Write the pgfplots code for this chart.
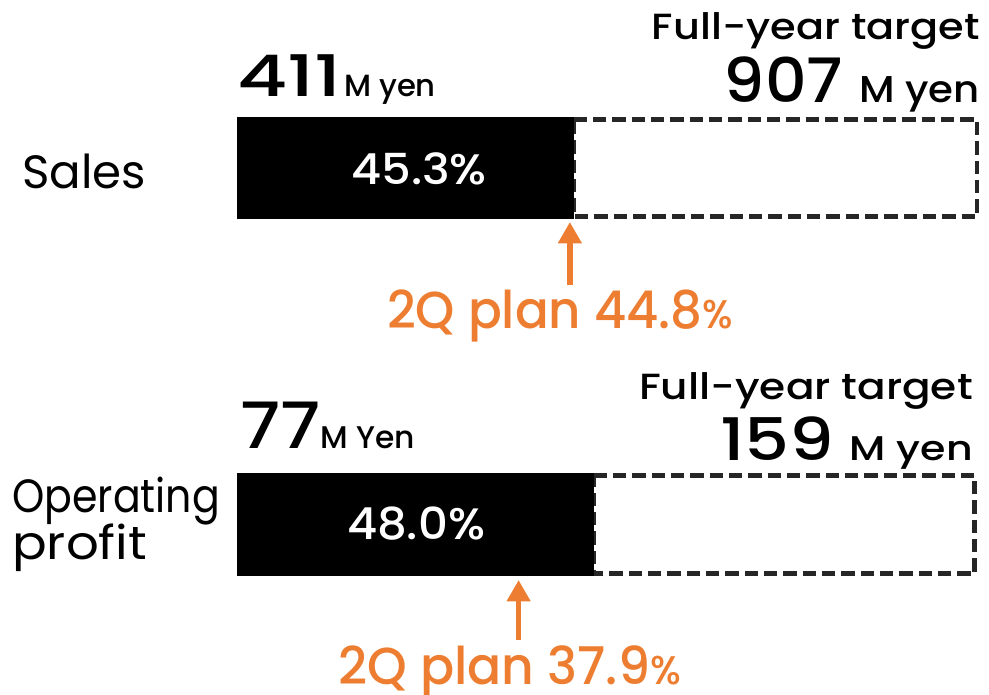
\documentclass[border=0pt]{standalone}
\usepackage{pgfplots}
\pgfplotsset{compat=1.18}
\usepackage{fontspec}
\usetikzlibrary{arrows.meta}
\setmainfont{Poppins}
\newfontfamily\popm{Poppins}[UprightFont=* Medium]
\definecolor{plan}{HTML}{ED7D31}
\definecolor{dash}{HTML}{262626}
\newcommand\sx[2]{\scalebox{#1}[1]{#2}}
\begin{document}
\begin{tikzpicture}
\begin{axis}[
  name=ax,
  scale only axis, width=741.75pt, height=520.5pt,
  xmin=-31.897, xmax=101.21, ymin=0, ymax=694, y dir=reverse,
  axis lines=none, clip=false,
]
% remainder up to full-year target (dashed box, % of target)
\addplot[draw=dash, fill=white, line width=3.6pt, dash pattern=on 10pt off 4.5pt] coordinates {(45.3,119.5) (99.6,119.5) (99.6,216.5) (45.3,216.5) (45.3,119.5)};
\addplot[draw=dash, fill=white, line width=3.6pt, dash pattern=on 10pt off 4.5pt] coordinates {(48.0,475.5) (99.3,475.5) (99.3,573.5) (48.0,573.5) (48.0,475.5)};
% achieved share of full-year target (%)
\addplot[xbar, bar width=102, fill=black, draw=none] coordinates {(45.3,168)};
\addplot[xbar, bar width=103, fill=black, draw=none] coordinates {(48.0,524.5)};
% 2Q plan arrows
\addplot[plan, line width=4.3pt, -{Triangle[length=16pt,width=17pt]}] coordinates {(44.8,285) (44.8,222)};
\addplot[plan, line width=4.3pt, -{Triangle[length=16pt,width=17pt]}] coordinates {(37.9,640) (37.9,580)};

% Sales block
\node[anchor=base east, inner sep=0, font=\popm\fontsize{27.3}{30}\selectfont] at (axis cs:100,39.5) {\sx{1.14}{Full-year target}};
\node[anchor=base east, inner sep=0] at (axis cs:100,102) {\popm\fontsize{46}{48}\selectfont \sx{1.06}{907} \fontsize{28}{30}\selectfont\sx{1.08}{M yen}};
\node[anchor=base west, inner sep=0] at (axis cs:0,96) {\popm\fontsize{43}{46}\selectfont \sx{1.35}{411}\hspace{2pt}\fontsize{23}{24}\selectfont M yen};
\node[anchor=base west, inner sep=0, font=\fontsize{35}{38}\selectfont] at (axis cs:-28.94,188) {Sales};
\node[anchor=base, inner sep=0, text=white, font=\popm\fontsize{32}{34}\selectfont] at (axis cs:24.5,184) {\sx{1.09}{45.3\%}};
\node[anchor=base, inner sep=0, text=plan] at (axis cs:43.5,328) {\popm\fontsize{39}{40}\selectfont \sx{0.96}{2Q plan 44.8\fontsize{30}{32}\selectfont\%}};

% Operating profit block
\node[anchor=base east, inner sep=0, font=\popm\fontsize{27.3}{30}\selectfont] at (axis cs:99.06,399) {\sx{1.16}{Full-year target}};
\node[anchor=base east, inner sep=0] at (axis cs:99.06,460) {\popm\fontsize{44}{46}\selectfont \sx{1.2}{159} \fontsize{25.7}{28}\selectfont \sx{1.2}{M yen}};
\node[anchor=base west, inner sep=0] at (axis cs:0.4,448) {\popm\fontsize{48}{50}\selectfont \sx{1.12}{77}\fontsize{23.5}{26}\selectfont M Yen};
\node[anchor=base west, inner sep=0, font=\fontsize{35}{38}\selectfont] at (axis cs:-30.28,512) {\sx{0.88}{Operating}};
\node[anchor=base west, inner sep=0, font=\fontsize{35}{38}\selectfont] at (axis cs:-30.28,559) {\sx{1.1}{profit}};
\node[anchor=base, inner sep=0, text=white, font=\popm\fontsize{33}{34}\selectfont] at (axis cs:24.1,539) {\sx{1.06}{48.0\%}};
\node[anchor=base, inner sep=0, text=plan] at (axis cs:36.7,684) {\popm\fontsize{39}{40}\selectfont \sx{0.97}{2Q plan 37.9\fontsize{30}{32}\selectfont\%}};
\end{axis}
\pgfresetboundingbox
\path (ax.south west) rectangle (ax.north east);
\end{tikzpicture}
\end{document}
